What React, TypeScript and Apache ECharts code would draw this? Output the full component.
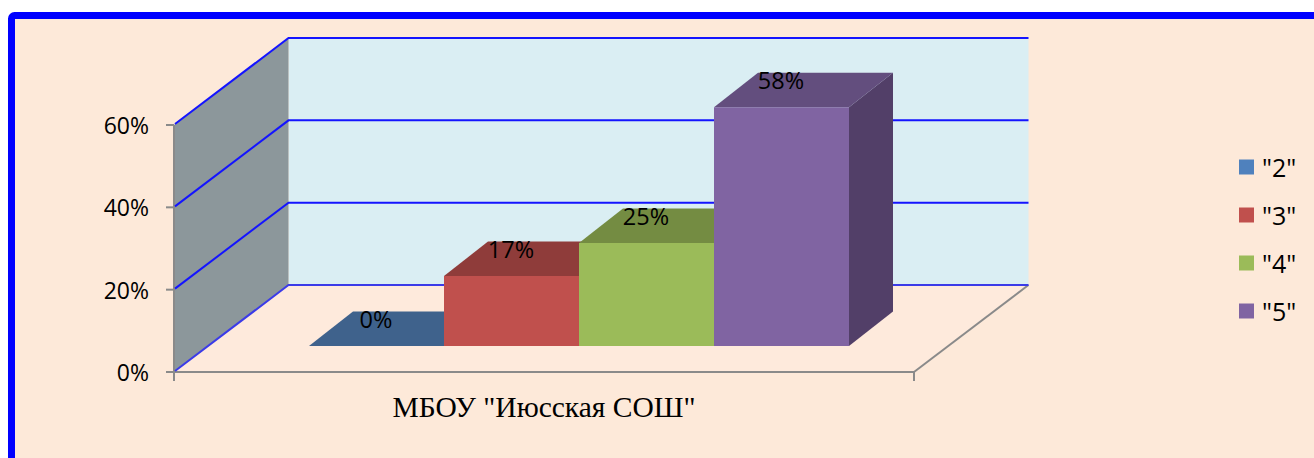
import React, { useEffect, useRef } from "react";
import * as echarts from "echarts";

const categories = ['МБОУ "Июсская СОШ"'];
const seriesNames = ['"2"', '"3"', '"4"', '"5"'];
const seriesValues = [0, 17, 25, 58];
const yTicks = [0, 20, 40, 60];

const frontColors = ["#4F81BD", "#C0504D", "#9BBB59", "#8064A2"];
const topColors = ["#3F628C", "#8F3C3A", "#748C42", "#634E7E"];
const sideColors = ["#355375", "#7A3331", "#627737", "#523F68"];

const BG = "#FDE9D9";
const FLOOR = "#FEEADC";
const BLUE = "#1414FF";
const AXIS = "#8A8A8A";
const WALL_DX = 114.5;
const WALL_DY = -87;
const BAR_SHIFT_X = 35;
const BAR_SHIFT_Y = -26;
const BAR_DX = 44;
const BAR_DY = -34.5;
const BAR_W = 135;
const GRID_LEFT = 174;
const GRID_RIGHT = 914;

function axisStroke(x1: number, y1: number, x2: number, y2: number) {
  return { type: "line", shape: { x1, y1, x2, y2 }, style: { stroke: AXIS, lineWidth: 2 } };
}

function renderWalls(params: any, api: any) {
  const y0 = api.coord([0, 0])[1];
  const yTop = api.coord([0, yTicks[yTicks.length - 1]])[1];
  const children: any[] = [
    {
      type: "polygon",
      shape: {
        points: [
          [GRID_LEFT, y0],
          [GRID_RIGHT, y0],
          [GRID_RIGHT + WALL_DX, y0 + WALL_DY],
          [GRID_LEFT + WALL_DX, y0 + WALL_DY],
        ],
      },
      style: { fill: FLOOR },
    },
    {
      type: "rect",
      shape: { x: GRID_LEFT + WALL_DX, y: yTop + WALL_DY, width: GRID_RIGHT - GRID_LEFT, height: y0 - yTop },
      style: { fill: "#DAEEF3" },
    },
    {
      type: "polygon",
      shape: {
        points: [
          [GRID_LEFT, y0],
          [GRID_LEFT + WALL_DX, y0 + WALL_DY],
          [GRID_LEFT + WALL_DX, yTop + WALL_DY],
          [GRID_LEFT, yTop],
        ],
      },
      style: { fill: "#8C979B" },
    },
    axisStroke(GRID_RIGHT, y0, GRID_RIGHT + WALL_DX, y0 + WALL_DY),
    axisStroke(GRID_LEFT, yTop, GRID_LEFT, y0 + 1),
    axisStroke(GRID_LEFT - 1, y0, GRID_RIGHT + 1, y0),
    axisStroke(GRID_LEFT, y0, GRID_LEFT, y0 + 9),
    axisStroke(GRID_RIGHT, y0, GRID_RIGHT, y0 + 9),
  ];
  yTicks.forEach((t) => {
    const y = api.coord([0, t])[1];
    children.push(axisStroke(GRID_LEFT - 8, y, GRID_LEFT, y));
    children.push({
      type: "polyline",
      shape: {
        points: [
          [GRID_LEFT + 1, y - 1],
          [GRID_LEFT + WALL_DX, y + WALL_DY],
          [GRID_RIGHT + WALL_DX, y + WALL_DY],
        ],
      },
      style: { stroke: t === 0 ? "#3B3BE8" : BLUE, lineWidth: 2, fill: "none" },
    });
  });
  return { type: "group", children };
}

function renderBar(params: any, api: any) {
  const i = params.seriesIndex - 1;
  const v = api.value(1);
  const c0 = api.coord([0, 0]);
  const c1 = api.coord([0, v]);
  const left = c0[0] + BAR_SHIFT_X + (i - seriesValues.length / 2) * BAR_W;
  const right = left + BAR_W;
  const bottom = c0[1] + BAR_SHIFT_Y;
  const top = c1[1] + BAR_SHIFT_Y;
  const children: any[] = [
    {
      type: "polygon",
      shape: { points: [[right, bottom], [right + BAR_DX, bottom + BAR_DY], [right + BAR_DX, top + BAR_DY], [right, top]] },
      style: { fill: sideColors[i] },
    },
    {
      type: "polygon",
      shape: { points: [[left, top], [right, top], [right + BAR_DX, top + BAR_DY], [left + BAR_DX, top + BAR_DY]] },
      style: { fill: topColors[i] },
    },
    {
      type: "rect",
      shape: { x: left, y: top, width: BAR_W, height: bottom - top },
      style: { fill: frontColors[i] },
    },
    {
      type: "text",
      z2: 100,
      style: {
        x: (left + right) / 2 - 0.5,
        y: top - 27,
        text: `${v}%`,
        fill: "#000",
        font: '23.5px "Open Sans"',
        align: "center",
        verticalAlign: "middle",
      },
    },
  ];
  return { type: "group", children };
}

export default function App() {
  const ref = useRef<HTMLDivElement>(null);
  useEffect(() => {
    document.body.style.margin = "0";
    document.body.style.overflow = "hidden";
    const chart = echarts.init(ref.current!, null, { renderer: "svg" });
    chart.setOption({
      animation: false,
      backgroundColor: "#fff",
      textStyle: { fontFamily: "Open Sans" },
      graphic: [
        {
          type: "rect",
          z: -10,
          silent: true,
          shape: { x: 11.5, y: 15.5, width: 1400, height: 520, r: 3 },
          style: { fill: BG, stroke: "#0000FF", lineWidth: 7 },
        },
      ],
      grid: { left: GRID_LEFT, top: 125, width: GRID_RIGHT - GRID_LEFT, height: 247 },
      legend: {
        data: seriesNames,
        orient: "vertical",
        left: 1234,
        top: 149.5,
        itemWidth: 15,
        itemHeight: 15,
        itemGap: 23,
        icon: "rect",
        selectedMode: false,
        textStyle: { fontFamily: "Open Sans", fontSize: 25, color: "#000", padding: [0, 0, 0, 3] },
      },
      xAxis: {
        type: "category",
        data: categories,
        axisLine: { show: false },
        axisTick: { show: false },
        axisLabel: {
          margin: 20,
          color: "#000",
          fontFamily: "Liberation Serif",
          fontSize: 29.5,
        },
      },
      yAxis: {
        type: "value",
        min: 0,
        max: 60,
        interval: 20,
        axisLine: { show: false },
        axisTick: { show: false },
        splitLine: { show: false },
        axisLabel: {
          margin: 25,
          color: "#000",
          fontFamily: "Open Sans",
          fontSize: 23,
          formatter: "{value}%",
        },
      },
      series: [
        {
          type: "custom",
          name: "walls",
          z: 1,
          silent: true,
          renderItem: renderWalls,
          data: [[0, 0]],
        },
        ...seriesNames.map((name, i) => ({
          type: "custom",
          name,
          z: 3,
          silent: true,
          itemStyle: { color: frontColors[i] },
          renderItem: renderBar,
          encode: { x: 0, y: 1 },
          data: [[0, seriesValues[i]]],
        })),
      ],
    });
    return () => chart.dispose();
  }, []);
  return <div ref={ref} style={{ position: "absolute", left: 0, top: 0, width: 1314, height: 458 }} />;
}
